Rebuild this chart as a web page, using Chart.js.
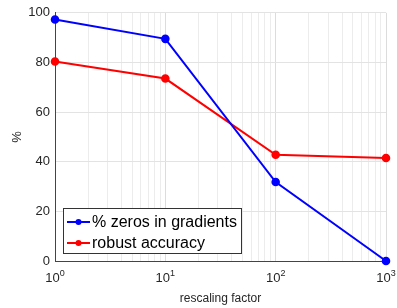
<!DOCTYPE html>
<html>
<head>
<meta charset="utf-8">
<script src="https://cdn.jsdelivr.net/npm/chart.js@4"></script>
<style>
  html, body { margin: 0; padding: 0; background: #fff; }
  #wrap { width: 397px; height: 308px; }
</style>
</head>
<body>
<div id="wrap"><canvas id="chart"></canvas></div>
<script>
const rescaling = [1, 10, 100, 1000];
const zerosInGradients = [97.3, 89.5, 31.8, 0];
const robustAccuracy = [80.4, 73.5, 42.8, 41.5];
const seriesLabels = ['% zeros in gradients', 'robust accuracy'];
const xMajorTicks = [1, 10, 100, 1000];
const xTickExponents = ['0', '1', '2', '3'];
const yTicks = [0, 20, 40, 60, 80, 100];

const FONT = '"Liberation Sans", Arial, Helvetica, sans-serif';
const TEXT = '#262626';

function toPoints(ys) {
    return rescaling.map((x, i) => ({ x: x, y: ys[i] }));
}

// etiquetas 10^n e legenda dentro do gráfico
const overlay = {
    id: 'overlay',
    afterDraw(chart) {
        const ctx = chart.ctx;
        const xs = chart.scales.x;
        ctx.save();
        ctx.fillStyle = TEXT;
        ctx.textBaseline = 'alphabetic';
        xMajorTicks.forEach((v, i) => {
            const px = xs.getPixelForValue(v);
            ctx.font = '13px ' + FONT;
            const wBase = ctx.measureText('10').width;
            ctx.font = '9px ' + FONT;
            const wSup = ctx.measureText(xTickExponents[i]).width;
            const start = px - (wBase + wSup) / 2;
            ctx.font = '13px ' + FONT;
            ctx.textAlign = 'left';
            ctx.fillText('10', start, 282);
            ctx.font = '9px ' + FONT;
            ctx.fillText(xTickExponents[i], start + wBase, 276);
        });

        // legenda
        const bx = 63, by = 208, bw = 178, bh = 45;
        ctx.fillStyle = '#fff';
        ctx.fillRect(bx, by, bw, bh);
        ctx.strokeStyle = '#333';
        ctx.lineWidth = 1;
        ctx.strokeRect(bx + 0.5, by + 0.5, bw, bh);
        chart.data.datasets.forEach((ds, i) => {
            const ry = 222 + i * 21;
            ctx.strokeStyle = ds.borderColor;
            ctx.lineWidth = 2;
            ctx.beginPath();
            ctx.moveTo(67, ry);
            ctx.lineTo(90, ry);
            ctx.stroke();
            ctx.fillStyle = ds.borderColor;
            ctx.beginPath();
            ctx.arc(78.5, ry, 3, 0, Math.PI * 2);
            ctx.fill();
            ctx.fillStyle = '#000';
            ctx.font = '16px ' + FONT;
            ctx.textAlign = 'left';
            ctx.textBaseline = 'middle';
            ctx.fillText(ds.label, 92, ry + 1);
        });
        ctx.restore();
    }
};

new Chart(document.getElementById('chart'), {
    type: 'line',
    data: {
        datasets: [
            {
                label: seriesLabels[0],
                data: toPoints(zerosInGradients),
                borderColor: '#0000ff',
                backgroundColor: '#0000ff',
                borderWidth: 2,
                pointRadius: 3.3,
                pointHoverRadius: 3.3,
                clip: false,
                tension: 0
            },
            {
                label: seriesLabels[1],
                data: toPoints(robustAccuracy),
                borderColor: '#ff0000',
                backgroundColor: '#ff0000',
                borderWidth: 2,
                pointRadius: 3.3,
                pointHoverRadius: 3.3,
                clip: false,
                tension: 0
            }
        ]
    },
    options: {
        responsive: true,
        maintainAspectRatio: false,
        animation: false,
        events: [],
        layout: { padding: { top: 7, right: 11, left: 0, bottom: 0 } },
        plugins: {
            legend: { display: false },
            tooltip: { enabled: false }
        },
        scales: {
            x: {
                type: 'logarithmic',
                min: 1,
                max: 1000,
                afterBuildTicks: (scale) => {
                    const t = [];
                    for (let d = 1; d < 1000; d *= 10) {
                        for (let k = 1; k < 10; k++) t.push({ value: k * d });
                    }
                    t.push({ value: 1000 });
                    scale.ticks = t;
                },
                afterFit: (scale) => { scale.height = 47; },
                ticks: { display: false, autoSkip: false },
                grid: {
                    drawTicks: false,
                    color: (c) => xMajorTicks.includes(c.tick && c.tick.value) ? '#dcdcdc' : '#ececec',
                    borderDash: (c) => xMajorTicks.includes(c.tick && c.tick.value) ? [] : [3, 3]
                },
                border: { display: true, color: '#444', width: 1 },
                title: {
                    display: true,
                    text: 'rescaling factor',
                    color: TEXT,
                    font: { family: FONT, size: 12 },
                    padding: { top: 0, bottom: 2 }
                }
            },
            y: {
                min: 0,
                max: 100,
                afterBuildTicks: (scale) => { scale.ticks = yTicks.map(v => ({ value: v })); },
                afterFit: (scale) => { scale.width = 55; },
                ticks: {
                    color: TEXT,
                    font: { family: FONT, size: 13 },
                    padding: 5
                },
                grid: { drawTicks: false, color: '#e3e3e3' },
                border: { display: true, color: '#444', width: 1 },
                title: {
                    display: true,
                    text: '%',
                    color: TEXT,
                    font: { family: FONT, size: 13 },
                    padding: { top: 10, bottom: 0 }
                }
            }
        }
    },
    plugins: [overlay]
});
</script>
</body>
</html>
